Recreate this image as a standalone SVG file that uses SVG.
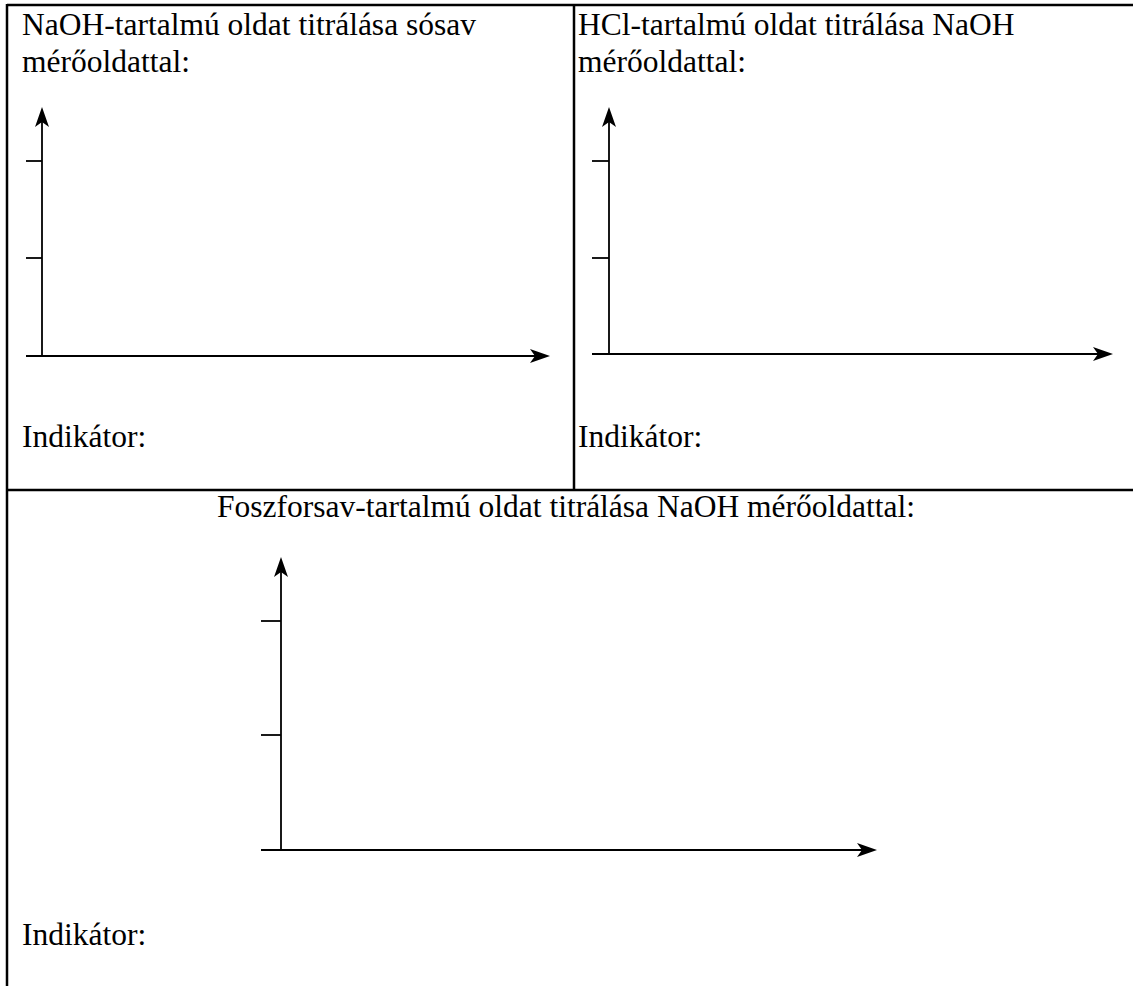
<svg xmlns="http://www.w3.org/2000/svg" width="1133" height="986" viewBox="0 0 1133 986">
<style>
.t{font-family:"Liberation Serif","Times New Roman",serif;font-size:31.5px;fill:#000}
.b{stroke:#000;stroke-width:2.5;fill:none}
.a{stroke:#000;stroke-width:1.8;fill:none}
.h{fill:#000;stroke:none}
</style>
<defs>
<path id="headR" class="h" d="M0,0 L-20,-7 L-15,0 L-20,7 Z"/>
<path id="headU" class="h" d="M0,0 L-7,20 L0,15 L7,20 Z"/>
</defs>
<rect width="1133" height="986" fill="#fff"/>
<g id="frame">
<line class="b" x1="7" y1="5" x2="1133" y2="5"/>
<line class="b" x1="7" y1="4" x2="7" y2="986"/>
<line class="b" x1="574" y1="5" x2="574" y2="490"/>
<line class="b" x1="7" y1="490" x2="1133" y2="490"/>
</g>
<g id="panel1">
<text class="t" x="22" y="35">NaOH-tartalmú oldat titrálása sósav</text>
<text class="t" x="22" y="72">mérőoldattal:</text>
<text class="t" x="22" y="447">Indikátor:</text>
</g>
<g id="panel2">
<text class="t" x="578" y="35">HCl-tartalmú oldat titrálása NaOH</text>
<text class="t" x="578" y="72">mérőoldattal:</text>
<text class="t" x="578" y="447">Indikátor:</text>
</g>
<g id="panel3">
<text class="t" x="566" y="517" text-anchor="middle">Foszforsav-tartalmú oldat titrálása NaOH mérőoldattal:</text>
<text class="t" x="22" y="945">Indikátor:</text>
</g>
<g id="axes">
<line class="a" x1="42" y1="356" x2="42" y2="120"/>
<use href="#headU" x="42" y="107"/>
<line class="a" x1="26" y1="356" x2="537" y2="356"/>
<use href="#headR" x="550" y="356"/>
<line class="a" x1="26" y1="161" x2="42" y2="161"/>
<line class="a" x1="26" y1="258" x2="42" y2="258"/>
<line class="a" x1="609" y1="354" x2="609" y2="120"/>
<use href="#headU" x="609" y="107"/>
<line class="a" x1="592" y1="354" x2="1100" y2="354"/>
<use href="#headR" x="1113" y="354"/>
<line class="a" x1="592" y1="161" x2="609" y2="161"/>
<line class="a" x1="592" y1="258" x2="609" y2="258"/>
<line class="a" x1="281" y1="850" x2="281" y2="570"/>
<use href="#headU" x="281" y="557"/>
<line class="a" x1="261" y1="850" x2="864" y2="850"/>
<use href="#headR" x="877" y="850"/>
<line class="a" x1="261" y1="621" x2="281" y2="621"/>
<line class="a" x1="261" y1="735" x2="281" y2="735"/>
</g>
</svg>
